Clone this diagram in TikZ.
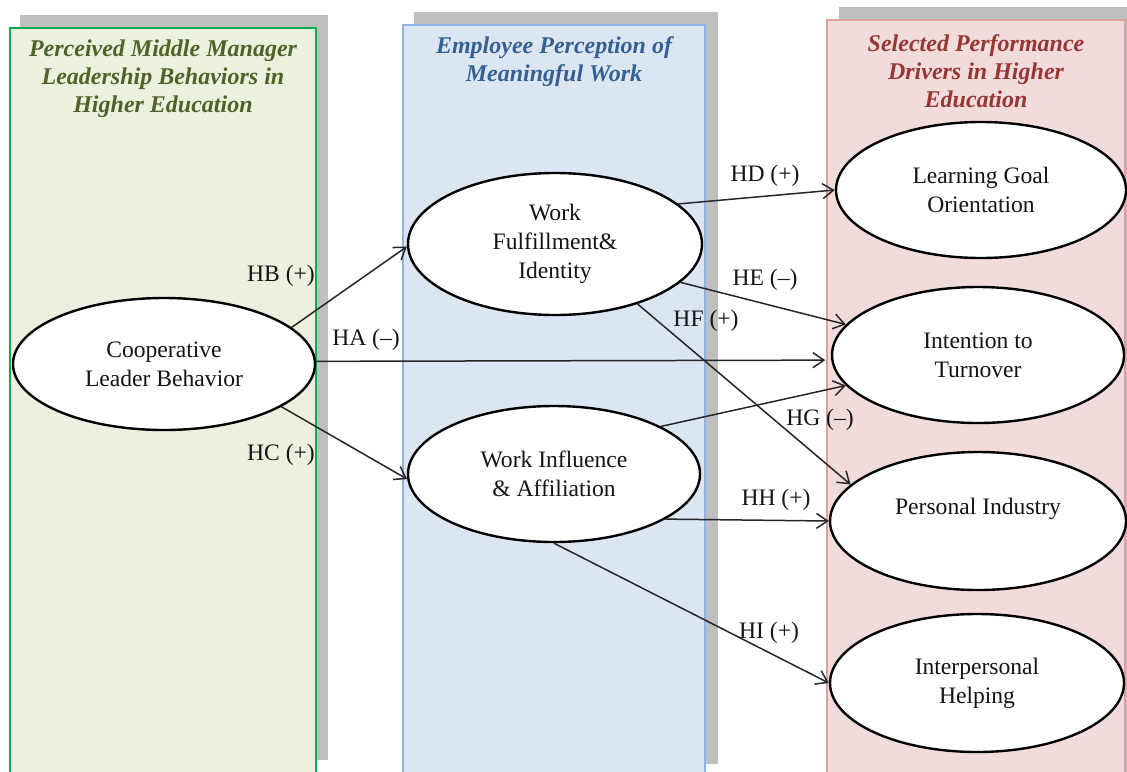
\documentclass[tikz,border=0pt]{standalone}
\usepackage{fontspec}
\setmainfont{Liberation Serif}
\usetikzlibrary{shapes.geometric,arrows.meta}

\definecolor{shadowgray}{HTML}{BFBFBF}
\definecolor{olivefill}{HTML}{EBF1DE}
\definecolor{oliveline}{HTML}{00B050}
\definecolor{olivetext}{HTML}{4F6228}
\definecolor{bluefill}{HTML}{DCE6F2}
\definecolor{blueline}{HTML}{8EB4E3}
\definecolor{bluetext}{HTML}{366092}
\definecolor{pinkfill}{HTML}{F2DCDB}
\definecolor{pinkline}{HTML}{E0A09E}
\definecolor{pinktext}{HTML}{953735}
\definecolor{inktext}{HTML}{141414}

\tikzset{
  bodyfont/.style={font=\fontsize{11.8}{14.5}\selectfont, text=inktext},
  construct/.style={ellipse, draw=black, line width=1.2pt, fill=white,
    inner sep=0pt, align=center, bodyfont},
  paneltitle/.style={align=center, inner sep=0pt,
    font=\fontsize{12}{14}\selectfont\bfseries\itshape},
  hyp/.style={inner sep=0pt, bodyfont},
  conn/.style={draw=black!85, line width=0.75pt,
    -{Straight Barb[length=5.5pt,width=7.5pt]}},
}

\begin{document}
\begin{tikzpicture}[x=0.5pt,y=-0.5pt]
\useasboundingbox (0,0) rectangle (1127,771);
\clip (0,0) rectangle (1127,771);

% three column panels with drop shadows
\fill[shadowgray] (20,15) rectangle (328,760);
\filldraw[fill=olivefill, draw=oliveline, line width=0.6pt] (10,28) rectangle (316,780);
\fill[shadowgray] (414,12) rectangle (718,764);
\filldraw[fill=bluefill, draw=blueline, line width=0.6pt] (403,25) rectangle (705,780);
\fill[shadowgray] (839,7) rectangle (1140,780);
\filldraw[fill=pinkfill, draw=pinkline, line width=0.6pt] (827,20) rectangle (1125,780);

% panel headings
\node[paneltitle, text=olivetext] (t1) at (163,79)
  {Perceived Middle Manager\\Leadership Behaviors in\\Higher Education};
\node[paneltitle, text=bluetext] (t2) at (554,62)
  {Employee Perception of\\Meaningful Work};
\node[paneltitle, text=pinktext] (t3) at (976,71)
  {Selected Performance\\Drivers in Higher\\Education};

% constructs
\node[construct, minimum width=151pt, minimum height=66pt] (coop) at (164,364)
  {Cooperative\\Leader Behavior};
\node[construct, minimum width=147pt, minimum height=71pt] (wf) at (555,244)
  {Work\\Fulfillment\&\\Identity};
\node[construct, minimum width=146pt, minimum height=68pt] (wi) at (554,474)
  {Work Influence\\\& Affiliation};
\node[construct, minimum width=145pt, minimum height=68pt] (lgo) at (981,190)
  {Learning Goal\\Orientation};
\node[construct, minimum width=146pt, minimum height=68pt] (itt) at (978,355)
  {Intention to\\Turnover};
\node[construct, minimum width=148pt, minimum height=69pt] (pi) at (978,521)
  {Personal Industry\\\mbox{}};
\node[construct, minimum width=147pt, minimum height=69pt] (ih) at (977,683)
  {Interpersonal\\Helping};

% hypothesised paths
\draw[conn] (coop.16) -- (wf.181.5);
\draw[conn, shorten >=3pt] (coop.1) -- (itt.182.3);
\draw[conn] (coop.-20) -- (wi.182.3);
\draw[conn] (wf.18) -- (lgo.180);
\draw[conn] (wf.-17) -- (itt.167.6);
\draw[conn] (wf.-36.6) -- (pi.164);
\draw[conn] (wi.24.8) -- (itt.193.8);
\draw[conn] (wi.-22) -- (pi.180);
\draw[conn] (wi.-90) -- (ih.180);

% path labels
\node[hyp] (lb) at (281,276) {HB (+)};
\node[hyp] (la) at (366,340) {HA (--)};
\node[hyp] (lc) at (281,455) {HC (+)};
\node[hyp] (ld) at (765,176) {HD (+)};
\node[hyp] (le) at (765,280) {HE (--)};
\node[hyp] (lf) at (706,321) {HF (+)};
\node[hyp] (lg) at (820,420) {HG (--)};
\node[hyp] (lh) at (776,500) {HH (+)};
\node[hyp] (li) at (769,633) {HI (+)};
\end{tikzpicture}
\end{document}
